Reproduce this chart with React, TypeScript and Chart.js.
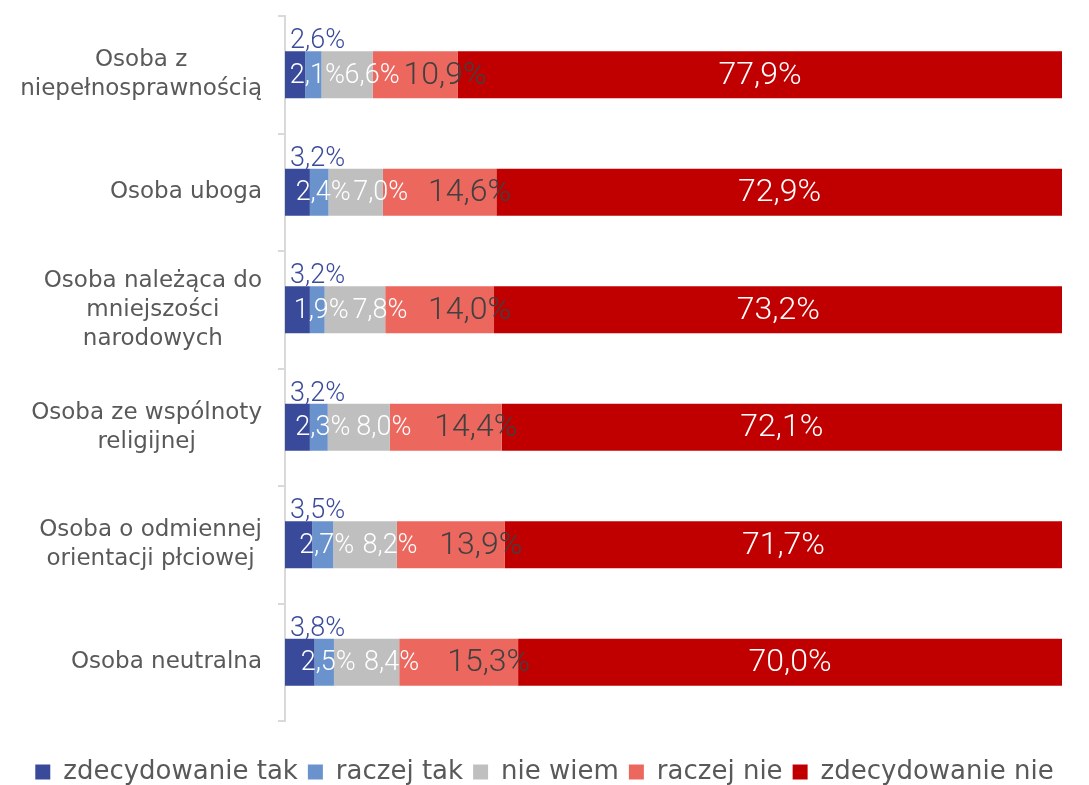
import React, { useEffect, useRef } from 'react';
import { Chart, registerables } from 'chart.js';

Chart.register(...registerables);

// ---- data ----
const categories: string[][] = [
  ['Osoba z', 'niepełnosprawnością'],
  ['Osoba uboga'],
  ['Osoba należąca do', 'mniejszości', 'narodowych'],
  ['Osoba ze wspólnoty', 'religijnej'],
  ['Osoba o odmiennej', 'orientacji płciowej'],
  ['Osoba neutralna'],
];
const seriesNames = ['zdecydowanie tak', 'raczej tak', 'nie wiem', 'raczej nie', 'zdecydowanie nie'];
const zdecydowanieTak = [2.6, 3.2, 3.2, 3.2, 3.5, 3.8];
const raczejTak = [2.1, 2.4, 1.9, 2.3, 2.7, 2.5];
const nieWiem = [6.6, 7.0, 7.8, 8.0, 8.2, 8.4];
const raczejNie = [10.9, 14.6, 14.0, 14.4, 13.9, 15.3];
const zdecydowanieNie = [77.9, 72.9, 73.2, 72.1, 71.7, 70.0];

// ---- styles ----
const seriesColors = ['#394A9B', '#6A93CD', '#BFBFBF', '#EC675E', '#C00000'];
const labelStyles = [
  { color: '#3B4B9C', size: 27, above: true, dx: 5 },
  { color: '#FFFFFF', size: 27, above: false, dx: 4 },
  { color: '#FFFFFF', size: 27, above: false, dx: 25 },
  { color: '#404040', size: 32, above: false, dx: 30 },
  { color: '#FFFFFF', size: 32, above: false, dx: 0 },
];
const TEXT_GRAY = '#595959';
const CAT_FONT = '23px "DejaVu Sans"';
const VALUE_FONT = '300 {size}px Roboto';

const fmt = (v: number) => v.toFixed(1).replace('.', ',') + '%';

const valueLabelsPlugin = {
  id: 'valueLabels',
  afterDatasetsDraw(chart: any) {
    const ctx = chart.ctx;
    ctx.save();
    chart.data.datasets.forEach((ds: any, di: number) => {
      const meta = chart.getDatasetMeta(di);
      const st = labelStyles[di];
      meta.data.forEach((el: any, i: number) => {
        const v = ds.data[i] as number;
        const text = fmt(v);
        const p = el.getProps(['x', 'y', 'base', 'height'], true);
        ctx.font = VALUE_FONT.replace('{size}', String(st.size));
        ctx.fillStyle = st.color;
        if (st.above) {
          ctx.textAlign = 'left';
          ctx.textBaseline = 'alphabetic';
          ctx.fillText(text, p.base + st.dx, p.y - p.height / 2 - 3);
        } else {
          ctx.textAlign = 'center';
          ctx.textBaseline = 'middle';
          ctx.fillText(text, (p.x + p.base) / 2 + st.dx, p.y + 1);
        }
      });
    });
    ctx.restore();
  },
};

const categoryLabelsPlugin = {
  id: 'categoryLabels',
  afterDraw(chart: any) {
    const ctx = chart.ctx;
    const yScale = chart.scales.y;
    ctx.save();
    ctx.font = CAT_FONT;
    ctx.fillStyle = TEXT_GRAY;
    ctx.textAlign = 'center';
    ctx.textBaseline = 'middle';
    (chart.data.labels as any[]).forEach((lab, i) => {
      const lines: string[] = Array.isArray(lab) ? lab : [String(lab)];
      const yc = yScale.getPixelForValue(i);
      const w = Math.max(...lines.map((l) => ctx.measureText(l).width));
      const cx = chart.chartArea.left - 23 - w / 2;
      const lh = 29;
      lines.forEach((l, j) => {
        ctx.fillText(l, cx, yc + (j - (lines.length - 1) / 2) * lh);
      });
    });
    ctx.restore();
  },
};

export default function App() {
  const canvasRef = useRef<HTMLCanvasElement | null>(null);

  useEffect(() => {
    if (!canvasRef.current) return;
    const seriesValues = [zdecydowanieTak, raczejTak, nieWiem, raczejNie, zdecydowanieNie];
    const chart = new Chart(canvasRef.current, {
      type: 'bar',
      data: {
        labels: categories as any,
        datasets: seriesNames.map((name, i) => ({
          label: name,
          data: seriesValues[i],
          backgroundColor: seriesColors[i],
          borderWidth: 0,
          categoryPercentage: 0.8,
          barPercentage: 0.5,
        })),
      },
      options: {
        indexAxis: 'y',
        animation: false,
        responsive: true,
        maintainAspectRatio: false,
        layout: { padding: { top: 16, right: 0, bottom: 5, left: 0 } },
        scales: {
          x: {
            stacked: true,
            min: 0,
            max: 100,
            display: true,
            grid: { display: false },
            border: { display: false },
            ticks: { display: false },
            afterFit: (s: any) => {
              s.height = 28;
            },
          },
          y: {
            stacked: true,
            grid: {
              display: true,
              drawOnChartArea: false,
              drawTicks: true,
              tickLength: 7,
              color: '#D9D9D9',
              lineWidth: 2,
              offset: true,
            },
            border: { display: true, color: '#D9D9D9', width: 2 },
            ticks: { display: false },
            afterFit: (s: any) => {
              s.width = 285;
            },
          },
          yRight: {
            type: 'category',
            axis: 'y',
            position: 'right',
            display: true,
            grid: { display: false },
            border: { display: false },
            ticks: { display: false },
            afterFit: (s: any) => {
              s.width = 27;
            },
          },
        },
        plugins: {
          legend: {
            position: 'bottom',
            labels: {
              boxWidth: 15,
              boxHeight: 15,
              padding: 10,
              color: TEXT_GRAY,
              font: { family: 'DejaVu Sans', size: 26 },
            },
          },
          tooltip: { enabled: false },
        },
      } as any,
      plugins: [valueLabelsPlugin, categoryLabelsPlugin],
    });
    return () => chart.destroy();
  }, []);

  return (
    <div style={{ position: 'fixed', left: 0, top: 0, width: 1089, height: 800, background: '#FFFFFF' }}>
      <canvas ref={canvasRef} />
    </div>
  );
}
